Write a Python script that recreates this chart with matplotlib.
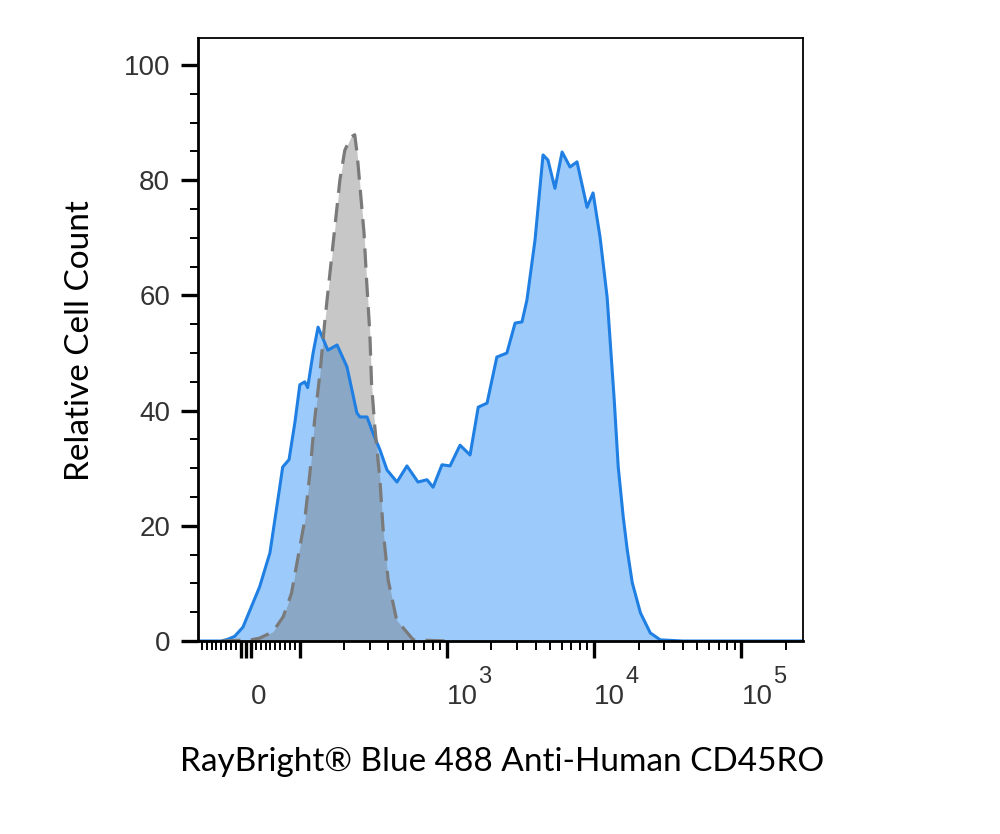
import matplotlib
matplotlib.use('Agg')
import matplotlib.pyplot as plt
from matplotlib.ticker import FixedLocator, FixedFormatter

# histogram data (fluorescence units, % of max)
blue_x = [-106, -60, -47, -33, -16, 0, 18, 39, 59, 65, 78, 90, 100, 108, 113, 123, 133,
          155, 179, 209, 244, 256, 286, 314, 350, 391, 457, 534, 635, 731, 804, 924,
          1048, 1226, 1434, 1629, 1870, 2180, 2550, 2900, 3230, 3490, 3960, 4490, 4850,
          5410, 6050, 6850, 7640, 8940, 9820, 10960, 12240, 13680, 14560, 15750, 16770,
          18140, 20600, 24040, 28100, 40000, 262144]
blue_y = [0, 0, 0.3, 0.8, 2.4, 5.7, 9.4, 15.3, 26.7, 30.2, 31.5, 38.0, 44.5, 45.0, 44.0,
          50.0, 54.5, 50.5, 51.4, 47.6, 39.6, 38.9, 38.9, 36.1, 33.2, 29.7, 27.6, 30.4,
          27.6, 28.0, 26.7, 30.6, 30.4, 34.0, 32.3, 40.6, 41.3, 49.3, 50.0, 55.2, 55.4,
          59.2, 69.6, 84.4, 83.5, 78.6, 84.9, 82.3, 83.2, 75.3, 77.8, 70.1, 59.7, 41.8,
          30.2, 21.5, 15.8, 10.1, 4.9, 1.4, 0.2, 0, 0]

grey_x = [-60, 0, 18, 45, 66, 83, 94, 108, 117, 126, 137, 148, 160, 173, 187, 202, 222,
          236, 245, 273, 284, 299, 307, 323, 350, 368, 398, 455, 590, 1000]
grey_y = [0, 0.2, 0.5, 1.6, 4.2, 8.3, 13.5, 21.0, 29.1, 38.4, 46.5, 55.7, 63.8, 71.9,
          80.0, 85.2, 87.5, 87.9, 84.6, 70.8, 62.7, 53.4, 44.7, 37.2, 28.0, 19.3, 10.6,
          3.6, 0.2, 0]

x_major = [-20, -10, 0, 100, 1e3, 1e4, 1e5]
x_major_labels = ['', '', '0', '', '10', '10', '10']
exponents = [3, 4, 5]
x_minor = ([-100 + 10 * i for i in range(8)] + [10 * i for i in range(1, 10)]
           + [m * 10 ** e for e in (2, 3, 4) for m in range(2, 10)] + [2e5])

y_major = [0, 20, 40, 60, 80, 100]
y_minor = [v for v in range(5, 100, 5) if v % 20 != 0]

xlabel = 'RayBright® Blue 488 Anti-Human CD45RO'
ylabel = 'Relative Cell Count'

tick_font = 'Liberation Sans'
label_font = ['Lato', 'DejaVu Sans']
tick_color = '#333333'

fig = plt.figure(figsize=(10, 8.34), dpi=100)
ax = fig.add_axes([0.198, 1 - 641 / 834, 0.605, (641 - 38) / 834])

ax.fill_between(blue_x, blue_y, 0, color='#9ccbfb', lw=0, zorder=1)
ax.fill_between(grey_x, grey_y, 0, color='#6e6e6e', alpha=0.38, lw=0, zorder=1.2)
ax.plot(blue_x, blue_y, color='#1f7fe3', lw=2.2, zorder=1.5,
        solid_joinstyle='round', solid_capstyle='round')
ax.plot(grey_x, grey_y, color='#7a7a7a', lw=2.3, dashes=(6, 3.2), zorder=1.6)

ax.set_xscale('symlog', linthresh=100, linscale=0.3)
ax.set_xlim(-106, 262144)
ax.set_ylim(0, 104.7)

ax.xaxis.set_major_locator(FixedLocator(x_major))
ax.xaxis.set_major_formatter(FixedFormatter(x_major_labels))
ax.xaxis.set_minor_locator(FixedLocator(x_minor))
ax.yaxis.set_major_locator(FixedLocator(y_major))
ax.yaxis.set_minor_locator(FixedLocator(y_minor))

ax.tick_params(axis='both', which='major', direction='out', length=12, width=2.4,
               color='black', labelcolor=tick_color, labelsize=20)
ax.tick_params(axis='both', which='minor', direction='out', length=6.5, width=1.4,
               color='black')
ax.tick_params(axis='x', which='major', pad=19)
ax.tick_params(axis='y', which='major', pad=8)
ax.tick_params(axis='y', which='minor', length=6)
for lab in ax.get_xticklabels():
    lab.set_ha('left')
    lab.set_family(tick_font)
for lab in ax.get_yticklabels():
    lab.set_family(tick_font)

# superscript exponents of the decade labels
for e in exponents:
    ax.annotate(str(e), xy=(10 ** e, 0), xycoords=('data', 'axes fraction'),
                xytext=(22.5, -26), textcoords='offset points', ha='left', va='center',
                fontsize=17, family=tick_font, color=tick_color, annotation_clip=False)

for side in ['left', 'bottom']:
    ax.spines[side].set_linewidth(2.0)
for side in ['top', 'right']:
    ax.spines[side].set_linewidth(1.3)

ax.set_xlabel(xlabel, fontsize=24, family=label_font, va='center')
ax.xaxis.set_label_coords(0.5025, -0.2007)
ax.set_ylabel(ylabel, fontsize=24, family=label_font, va='center')
ax.yaxis.set_label_coords(-0.195, 0.499)

fig.savefig('out.png', dpi=100)
